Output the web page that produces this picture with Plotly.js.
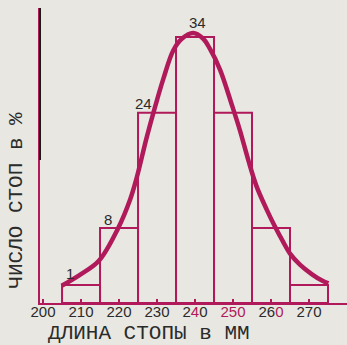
<!DOCTYPE html>
<html>
<head>
<meta charset="utf-8">
<script src="https://cdn.plot.ly/plotly-3.0.1.min.js"></script>
<style>html,body{margin:0;padding:0;background:#e8e7e1;}#chart{width:347px;height:345px;}</style>
</head>
<body>
<div id="chart"></div>
<script>
// Histogram: foot length classes (mm) and share of feet (%)
const classCenters = [210, 220, 230, 240, 250, 260, 270];
const barHeights = [2.3, 9.6, 24.3, 34, 24.3, 9.6, 2.3];   // heights as drawn
const barLabels = ['1', '8', '24', '34', '', '', ''];
// Fitted curve
const curveX = [204.9, 209.7, 214.7, 219.7, 222.9, 224.7, 227.3, 229.5, 231.7, 234.3, 236.6, 239.5, 242.1, 243.9, 246.6, 249.7, 251.8, 254.0, 256.2, 258.9, 261.1, 263.2, 265.0, 267.6, 270.7, 273.3, 275.1];
const curveY = [2.2, 3.6, 5.4, 9.5, 13.2, 16.1, 21.2, 25.1, 28.7, 32.3, 33.8, 34.5, 33.8, 32.5, 29.8, 25.3, 22.1, 18.3, 14.9, 11.9, 9.7, 7.8, 6.3, 4.9, 3.7, 2.9, 2.5];
const tickVals = [200, 210, 220, 230, 240, 250, 260, 270];
const tickText = ['200', '210', '220', '230', '2<span style="fill:#b01a5a">4</span>0',
  '<span style="fill:#b01a5a">250</span>', '26<span style="fill:#b01a5a">0</span>', '270'];
const xTitle = 'ДЛИНА СТОПЫ в ММ';
const yTitle = 'ЧИСЛО СТОП в %';

const MAG = '#b01a5a';
const BG = '#e8e7e1';
const labelShift = [[-11, 12], [-11, 8], [-14, 9], [2, 14], [0, 0], [0, 0], [0, 0]];

const traces = [
  {
    type: 'bar', x: classCenters, y: barHeights, width: 10,
    marker: {color: 'rgba(0,0,0,0)', line: {color: MAG, width: 2}},
    hoverinfo: 'skip', showlegend: false
  },
  {
    type: 'scatter', mode: 'lines', x: curveX, y: curveY,
    line: {color: MAG, width: 4.5, shape: 'spline', smoothing: 1},
    hoverinfo: 'skip', showlegend: false
  }
];

const annotations = classCenters.map((c, i) => ({
  x: c, y: barHeights[i], xref: 'x', yref: 'y', text: barLabels[i],
  showarrow: false, xanchor: 'center', yanchor: 'middle',
  xshift: labelShift[i][0], yshift: labelShift[i][1],
  font: {family: 'Liberation Sans, Arial, sans-serif', size: 15, color: '#2b2b2b'}
})).filter(a => a.text !== '');

annotations.push({
  x: 0.355, y: -0.102, xref: 'paper', yref: 'paper', text: xTitle, showarrow: false,
  xanchor: 'center', yanchor: 'middle',
  font: {family: 'Liberation Mono, DejaVu Sans Mono, monospace', size: 21, color: '#2b2b2b'}
});
annotations.push({
  x: -0.075, y: 0.35, xref: 'paper', yref: 'paper', text: yTitle, showarrow: false,
  textangle: -90, xanchor: 'center', yanchor: 'middle',
  font: {family: 'Liberation Mono, DejaVu Sans Mono, monospace', size: 21, color: '#2b2b2b'}
});

const layout = {
  width: 347, height: 345,
  margin: {l: 40, r: 0, t: 8, b: 42},
  paper_bgcolor: BG, plot_bgcolor: BG,
  showlegend: false,
  bargap: 0,
  xaxis: {
    range: [199.2, 280], showgrid: false, zeroline: false,
    showline: true, linecolor: MAG, linewidth: 2,
    ticks: 'inside', ticklen: 4, tickwidth: 1.5, tickcolor: MAG,
    tickvals: tickVals, ticktext: tickText, ticklabelstandoff: -6,
    tickfont: {family: 'Liberation Sans Narrow, Liberation Sans, Arial, sans-serif', size: 15, color: '#2b2b2b'}
  },
  yaxis: {
    range: [0, 37.7], showgrid: false, zeroline: false,
    showline: true, linecolor: MAG, linewidth: 2,
    showticklabels: false, ticks: ''
  },
  shapes: [
    {type: 'line', xref: 'paper', yref: 'paper', x0: 0, x1: 0, y0: 0.485, y1: 1,
     line: {color: '#1a1a1a', width: 2}}
  ],
  annotations: annotations
};

Plotly.newPlot('chart', traces, layout, {staticPlot: true, displayModeBar: false});
</script>
</body>
</html>
